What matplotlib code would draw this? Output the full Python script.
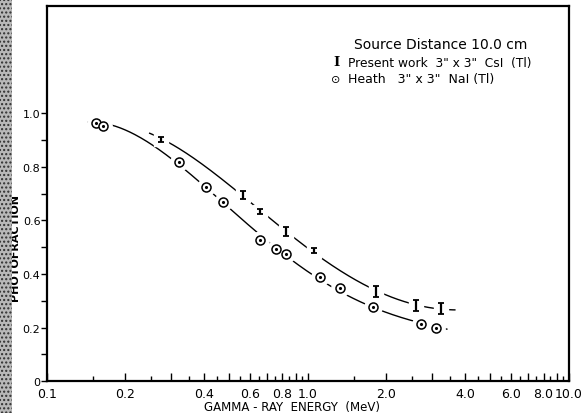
import numpy as np
import matplotlib
matplotlib.use("Agg")
import matplotlib.pyplot as plt
from matplotlib.patches import Rectangle

# ---- data ----
heath_E = [0.154, 0.165, 0.320, 0.407, 0.472, 0.655, 0.754, 0.824, 1.11, 1.33, 1.77, 2.71, 3.09]
heath_P = [0.963, 0.952, 0.818, 0.725, 0.669, 0.528, 0.494, 0.476, 0.387, 0.346, 0.275, 0.212, 0.197]

csi_E = [0.273, 0.564, 0.655, 0.824, 1.054, 1.82, 2.59, 3.23]
csi_P = [0.903, 0.695, 0.632, 0.558, 0.487, 0.335, 0.283, 0.271]
csi_err = [0.010, 0.015, 0.010, 0.016, 0.010, 0.020, 0.020, 0.020]

# points
heath_curve_E = [0.144, 0.208, 0.264, 0.320, 0.403, 0.472, 0.638, 0.824, 1.11, 1.77, 2.71, 3.41]
heath_curve_P = [0.967, 0.926, 0.870, 0.818, 0.725, 0.669, 0.539, 0.476, 0.387, 0.275, 0.212, 0.197]
csi_curve_E = [0.248, 0.315, 0.460, 0.564, 0.655, 0.824, 1.054, 1.82, 2.59, 3.66]
csi_curve_P = [0.922, 0.881, 0.751, 0.699, 0.632, 0.558, 0.487, 0.335, 0.286, 0.266]

x_tick_vals = [0.1, 0.2, 0.4, 0.6, 0.8, 1.0, 2.0, 4.0, 6.0, 8.0, 10.0]
x_tick_labels = ["0.1", "0.2", "0.4", "0.6", "0.8", "1.0", "2.0", "4.0", "6.0", "8.0", "10.0"]
y_tick_vals = [0, 0.2, 0.4, 0.6, 0.8, 1.0]
y_tick_labels = ["0", "0.2", "0.4", "0.6", "0.8", "1.0"]

legend_title = "Source Distance 10.0 cm"
legend_csi = "Present work  3\" x 3\"  CsI  (Tl)"
legend_heath = "Heath   3\" x 3\"  NaI (Tl)"

plt.rcParams['font.family'] = ['DejaVu Sans']
fig = plt.figure(figsize=(5.84, 4.14), dpi=100)
ax = fig.add_axes([0.080, 0.077, 0.894, 0.906])
ax.set_xscale('log')
ax.set_xlim(0.1, 10)
ax.set_ylim(0, 1.4)


def smooth(E, P, deg=4):
    """Smooth rendering of the hand-drawn curve through its read points (log-E space)."""
    lx = np.log10(E)
    c = np.polyfit(lx, P, deg)
    xx = np.linspace(lx[0], lx[-1], 300)
    return 10 ** xx, np.polyval(c, xx)


xh, yh = smooth(heath_curve_E, heath_curve_P)
xc, yc = smooth(csi_curve_E, csi_curve_P)
ax.plot(xh, yh, color='black', lw=1.0, zorder=2)
ax.plot(xc, yc, color='black', lw=1.0, zorder=2)

# white halos to break lines around markers
ax.plot(heath_E, heath_P, 'o', ms=12.5, color='white', mec='white', zorder=3)
ax.plot(csi_E, csi_P, 's', ms=10.5, color='white', mec='white', zorder=3)

# markers
ax.plot(heath_E, heath_P, 'o', ms=6.5, mfc='white', mec='black', mew=1.1, zorder=4)
ax.plot(heath_E, heath_P, '.', ms=2.5, color='black', zorder=5)
ax.errorbar(csi_E, csi_P, yerr=csi_err, fmt='none', ecolor='black', elinewidth=1.6,
            capsize=2.5, capthick=1.3, zorder=4)

# ticks
tall = [round(v, 2) for v in np.arange(0.1, 1.01, 0.1)] + list(range(2, 11))
short = [round(v, 2) for v in np.arange(0.15, 1.0, 0.1)] + [1.5 + i for i in range(9)]
ax.xaxis.set_major_locator(matplotlib.ticker.FixedLocator(tall))
labels = [x_tick_labels[x_tick_vals.index(v)] if v in x_tick_vals else "" for v in tall]
ax.xaxis.set_major_formatter(matplotlib.ticker.FixedFormatter(labels))
ax.xaxis.set_minor_locator(matplotlib.ticker.FixedLocator(short))
ax.xaxis.set_minor_formatter(matplotlib.ticker.NullFormatter())
ax.tick_params(axis='x', which='major', direction='in', length=6, width=1.0, labelsize=9, pad=4.5)
ax.tick_params(axis='x', which='minor', direction='in', length=3.5, width=1.0)

ax.set_yticks(y_tick_vals, y_tick_labels)
ax.set_yticks([0.1, 0.3, 0.5, 0.7, 0.9], minor=True)
ax.tick_params(axis='y', which='major', direction='out', length=4, width=1.0, labelsize=8, pad=0.5)
ax.tick_params(axis='y', which='minor', direction='out', length=4, width=1.0)

for s in ax.spines.values():
    s.set_linewidth(1.6)

ax.set_xlabel("GAMMA - RAY  ENERGY  (MeV)", fontsize=8.5)
ax.xaxis.set_label_coords((292 - 47) / 522, -(407 - 382) / 375)
ax.xaxis.label.set_va('center')
ax.set_ylabel("PHOTOFRACTION", fontsize=8, fontweight='bold')
ax.yaxis.set_label_coords(-0.052, 0.36)

# legend text
fig.text(441/584, 1 - 45/414, legend_title, ha='center', va='center', fontsize=10)
fig.text(336/584, 1 - 63/414, "I", ha='center', va='center', fontsize=9.5, family='DejaVu Serif',
         fontweight='bold')
fig.text(348/584, 1 - 63/414, legend_csi, ha='left', va='center', fontsize=8.8)
fig.text(336/584, 1 - 80/414, "⊙", ha='center', va='center', fontsize=8)
fig.text(348/584, 1 - 80/414, legend_heath, ha='left', va='center', fontsize=9)

# scanned page edge at the left
fig.patches.append(Rectangle((0, 0), 12/584, 1, transform=fig.transFigure, facecolor='#b8b8b8',
                             edgecolor='#303030', hatch='....', lw=0, zorder=0))

fig.savefig("out.png", dpi=100)
